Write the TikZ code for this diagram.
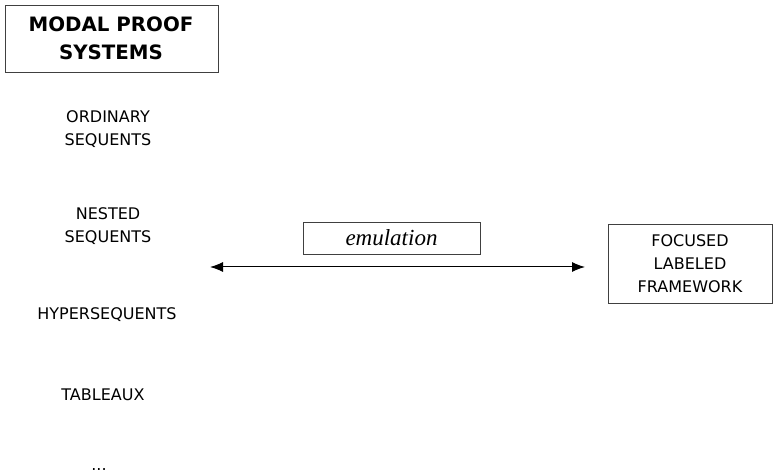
\documentclass[tikz,border=0pt]{standalone}
\usepackage{fontspec}
\usetikzlibrary{arrows.meta}
\setmainfont{DejaVu Sans}
\newfontfamily\emfont{Liberation Serif}
\begin{document}
\begin{tikzpicture}[x=1bp,y=-1bp,
  every node/.style={inner sep=0pt, outer sep=0pt},
  lbl/.style={align=center, font=\fontsize{16bp}{23bp}\selectfont},
  boxline/.style={draw=black!75, line width=0.9bp},
  arr/.style={line width=1bp, arrows={Latex[length=13bp,width=10bp]-Latex[length=13bp,width=10bp]}}
]
\useasboundingbox (0,0) rectangle (781,474);
\draw[boxline] (5,5) rectangle (218,72);
\node[align=center, font=\bfseries\fontsize{19.8bp}{28bp}\selectfont] (title) at (111,38) {MODAL PROOF\\SYSTEMS};
\node[lbl] (ord) at (108,129) {ORDINARY\\SEQUENTS};
\node[lbl] (nest) at (108,226) {NESTED\\SEQUENTS};
\node[lbl] (hyp) at (107,315) {HYPERSEQUENTS};
\node[lbl] (tab) at (103,395) {TABLEAUX};
\node[lbl, anchor=base] (dots) at (99,470) {...};
\node[boxline, minimum width=177bp, minimum height=32bp, font=\emfont\itshape\fontsize{23bp}{24bp}\selectfont] (emu) at (391.5,238) {emulation};
\node[boxline, minimum width=164bp, minimum height=79bp, lbl] (foc) at (690,263.5) {FOCUSED\\LABELED\\FRAMEWORK};
\coordinate (L) at (210,267);
\coordinate (R) at (585,267);
\draw[arr] (L) -- (R);
\end{tikzpicture}
\end{document}
